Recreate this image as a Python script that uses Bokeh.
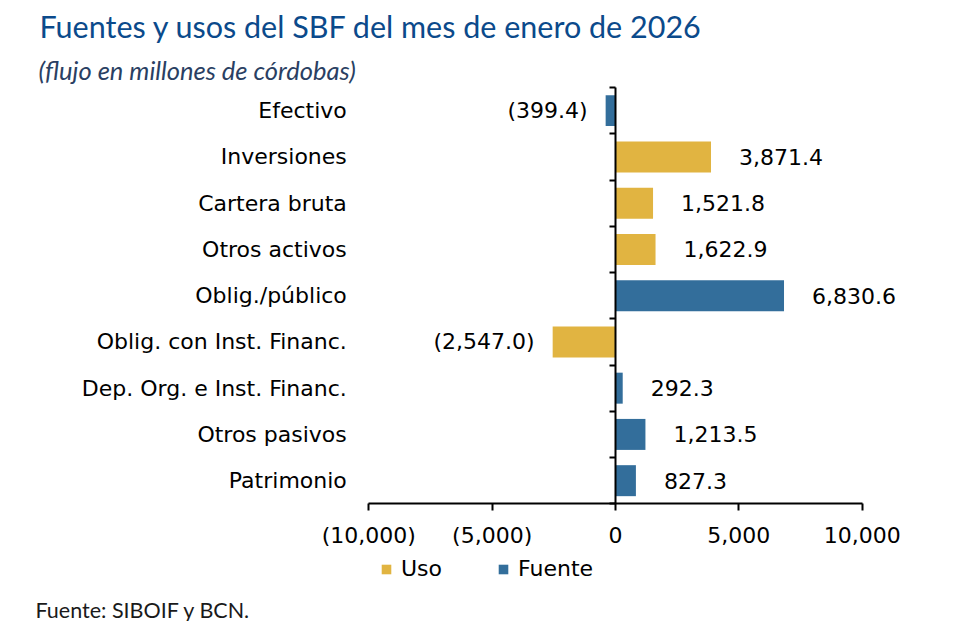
from bokeh.plotting import figure
from bokeh.models import (Range1d, FixedTicker, LinearAxis, NumeralTickFormatter,
                          Label, Legend, LegendItem, ColumnDataSource)
from bokeh.embed import file_html
from bokeh.resources import INLINE
from bokeh.core.properties import value

# ---------------- data ----------------
categories = ["Efectivo", "Inversiones", "Cartera bruta", "Otros activos",
              "Oblig./público", "Oblig. con Inst. Financ.",
              "Dep. Org. e Inst. Financ.", "Otros pasivos", "Patrimonio"]
values = [-399.4, 3871.4, 1521.8, 1622.9, 6830.6, -2547.0, 292.3, 1213.5, 827.3]
kinds = ["Fuente", "Uso", "Uso", "Uso", "Fuente", "Uso", "Fuente", "Fuente", "Fuente"]
series = ["Uso", "Fuente"]
x_ticks = [-10000, -5000, 0, 5000, 10000]
x_min, x_max = -10000, 10000

title_text = "Fuentes y usos del SBF del mes de enero de 2026"
subtitle_text = "(flujo en millones de córdobas)"
source_text = "Fuente: SIBOIF y BCN."

colors = {"Uso": "#E1B441", "Fuente": "#336E9B"}
FONT = "DejaVu Sans"
TITLE_FONT = "Lato"

W, H = 949, 621


def fmt(v):
    s = f"{abs(v):,.1f}"
    return f"({s})" if v < 0 else s


n = len(categories)
idx = list(range(n))

# the frame covers the whole canvas; the ranges place the axis box where
# the reference draws it (x: 368..862 px, y: 87..503 px)
px_x = (861.7 - 368.3) / (x_max - x_min)
px_y = (503.3 - 87.0) / n
x_range = Range1d(x_min - 368.3 / px_x, x_max + (W - 861.7) / px_x)
y_range = Range1d((n - 0.5) + (H - 503.3) / px_y, -0.5 - 87.0 / px_y)

p = figure(width=W, height=H, output_backend="svg", toolbar_location=None,
           x_range=x_range, y_range=y_range, x_axis_type=None, y_axis_type=None,
           min_border=0)
p.outline_line_color = None
p.background_fill_color = "white"
p.border_fill_color = "white"

# bars
renderers = {}
for s in series:
    ys = [i for i in idx if kinds[i] == s]
    src = ColumnDataSource(dict(y=ys, v=[values[i] for i in ys]))
    r = p.hbar(y="y", right="v", left=0, height=0.67, source=src,
               fill_color=colors[s], line_color=None)
    renderers[s] = r

# value labels
lab_src = ColumnDataSource(dict(
    x=values, y=idx, t=[fmt(v) for v in values],
    align=["right" if v < 0 else "left" for v in values],
    xo=[-18 if v < 0 else 28 for v in values]))
p.text(x="x", y="y", text="t", source=lab_src, text_align="align",
       x_offset="xo", text_baseline="middle", text_font=value(FONT),
       text_font_size="22px", text_color="black")

# x axis
xa = LinearAxis(fixed_location=n - 0.5, bounds=(x_min, x_max),
                ticker=FixedTicker(ticks=x_ticks),
                formatter=NumeralTickFormatter(format="(0,0)"),
                axis_line_width=2, axis_line_color="black",
                major_tick_line_width=2, major_tick_line_color="black",
                major_tick_out=7, major_tick_in=0, minor_tick_line_color=None,
                major_label_text_font=FONT, major_label_text_font_size="22px",
                major_label_text_color="black", major_label_standoff=12)
p.add_layout(xa, "below")

# category labels
ya = LinearAxis(fixed_location=x_min, bounds=(-0.5, n - 0.5),
                ticker=FixedTicker(ticks=idx),
                major_label_overrides={i: c for i, c in enumerate(categories)},
                axis_line_color=None, major_tick_line_color=None,
                major_tick_out=0, major_tick_in=0, minor_tick_line_color=None,
                major_label_standoff=22, major_label_text_font=FONT,
                major_label_text_font_size="22px", major_label_text_color="black")
p.add_layout(ya, "left")

# vertical axis at x = 0 with ticks at category boundaries
bounds = [i - 0.5 for i in range(n + 1)]
za = LinearAxis(fixed_location=0, bounds=(-0.5, n - 0.5),
                ticker=FixedTicker(ticks=bounds),
                major_label_overrides={b: "" for b in bounds},
                axis_line_width=2, axis_line_color="black",
                major_tick_line_width=2, major_tick_line_color="black",
                major_tick_out=6, major_tick_in=0,
                minor_tick_line_color=None, major_label_text_font_size="1px")
p.add_layout(za, "left")

# legend
legend = Legend(items=[LegendItem(label=s, renderers=[renderers[s]]) for s in series],
                orientation="horizontal", location=(380, 621 - 581),
                glyph_width=12, glyph_height=12, label_standoff=9, spacing=55,
                padding=0, margin=0, border_line_color=None,
                background_fill_alpha=0, label_text_font=FONT,
                label_text_font_size="22px", label_text_color="black")
p.add_layout(legend, "center")

# titles / source
p.add_layout(Label(x=39, y=H - 25.5, x_units="screen", y_units="screen",
                   text=title_text, text_font=TITLE_FONT, text_font_size="30.5px",
                   text_color="#0B4A8B", text_baseline="alphabetic"))
p.add_layout(Label(x=38, y=H - 69.0, x_units="screen", y_units="screen",
                   text=subtitle_text, text_font=TITLE_FONT, text_font_size="25.5px",
                   text_font_style="italic", text_color="#2A3F63",
                   text_baseline="alphabetic"))
p.add_layout(Label(x=35, y=H - 609.0, x_units="screen", y_units="screen",
                   text=source_text, text_font=TITLE_FONT, text_font_size="21.5px",
                   text_color="#1a1a1a", text_baseline="alphabetic"))

open("out.html", "w").write(file_html(p, INLINE))
